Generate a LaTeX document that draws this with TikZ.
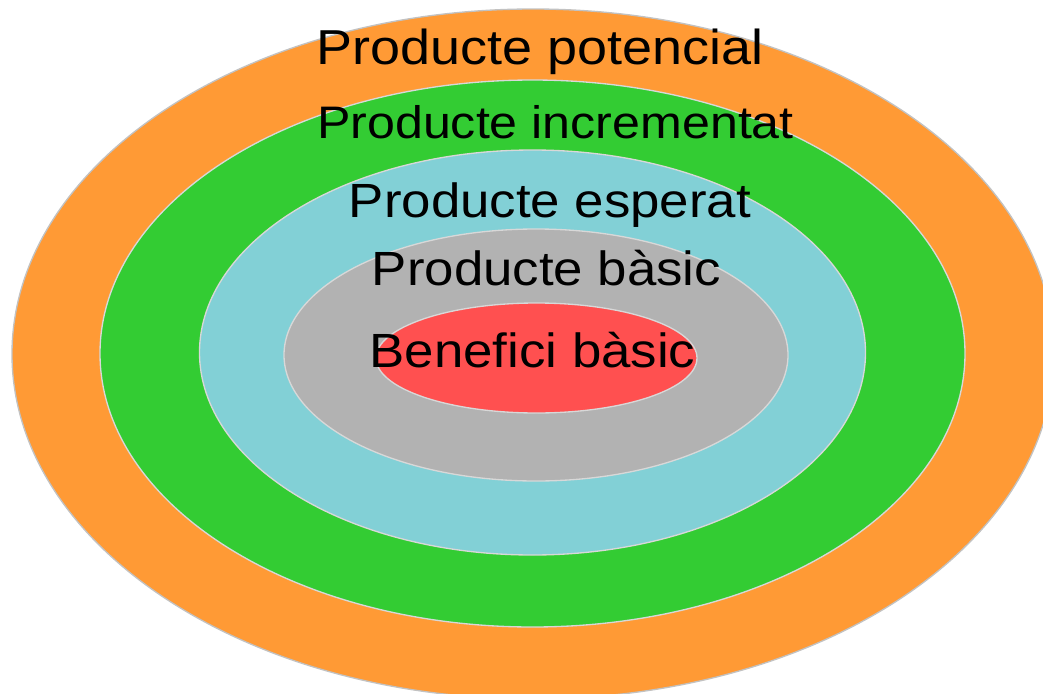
\documentclass[tikz,border=0pt]{standalone}
\usepackage{fontspec}
\setmainfont{Liberation Sans}
\definecolor{ringorange}{HTML}{FF9A35}
\definecolor{ringgreen}{HTML}{33CC33}
\definecolor{ringcyan}{HTML}{82D0D6}
\definecolor{ringgray}{HTML}{B2B2B2}
\definecolor{ringred}{HTML}{FF5050}
\definecolor{ringedge}{HTML}{D8D8D8}
\begin{document}
\begin{tikzpicture}[x=0.75pt,y=-0.75pt,
  ring/.style={draw=ringedge,line width=1pt},
  label/.style={anchor=base,inner sep=0pt,text=black,
    font=\fontsize{36}{40}\selectfont},
  biglabel/.style={label,font=\fontsize{36.8}{40}\selectfont},
  smalllabel/.style={label,font=\fontsize{34.2}{38}\selectfont}]
\useasboundingbox (0,0) rectangle (1043,693);
\clip (0,0) rectangle (1043,693);
% concentric layers, outermost first
\filldraw[ring,fill=ringorange,draw=ringedge!90!black] (533,354) ellipse [x radius=521,y radius=345];
\filldraw[ring,fill=ringgreen] (532.5,353.5) ellipse [x radius=432.5,y radius=273.5];
\filldraw[ring,fill=ringcyan] (532.5,352.5) ellipse [x radius=333,y radius=202.5];
\filldraw[ring,fill=ringgray] (536,355) ellipse [x radius=252,y radius=126];
\filldraw[ring,fill=ringred] (536.5,358) ellipse [x radius=160.5,y radius=55];
% layer captions
\node[biglabel] (potencial) at (540.5,64) {\scalebox{1.1}[1]{Producte potencial}};
\node[smalllabel] (incrementat) at (555.5,138) {\scalebox{1.1}[1]{Producte incrementat}};
\node[label] (esperat) at (550,217) {\scalebox{1.1}[1]{Producte esperat}};
\node[label] (basic) at (546.5,285) {\scalebox{1.1}[1]{Producte bàsic}};
\node[label] (benefici) at (532.5,367) {\scalebox{1.1}[1]{Benefici bàsic}};
\end{tikzpicture}
\end{document}
